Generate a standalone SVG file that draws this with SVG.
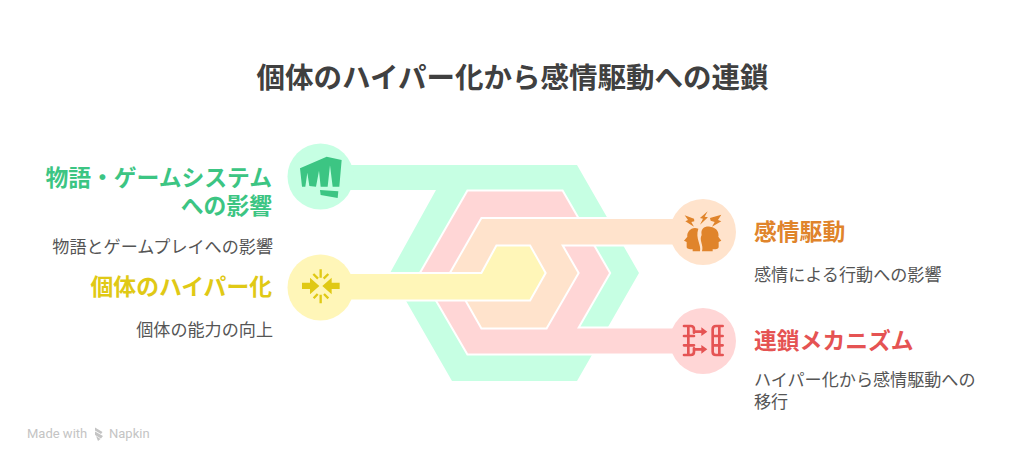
<svg xmlns="http://www.w3.org/2000/svg" width="1024" height="465" viewBox="0 0 1024 465">
<style>
text{font-family:"Noto Sans CJK JP","Noto Sans",sans-serif}
.title{font-size:28.5px;font-weight:700;fill:#404040;text-anchor:middle}
.h{font-size:22.8px;font-weight:700}
.b{font-size:17.1px;fill:#555}
.end{text-anchor:end}
.band{stroke:#fff;stroke-width:4;paint-order:stroke;stroke-linejoin:miter}
.g{fill:#3cc583}.y{fill:#e0c915}.o{fill:#e0842b}.r{fill:#e55353}
.foot{font-size:13px;fill:#c4c4c4;font-family:Roboto,sans-serif}
</style>
<rect width="1024" height="465" fill="#fff"/>
<text class="title" x="512.5" y="88">個体のハイパー化から感情駆動への連鎖</text>
<g id="connectors">
<polygon class="band" fill="#c6ffe3" points="320,165 577,165 639,273 577,381 452,381 390,273 436,190 320,190"/>
<polygon class="band" fill="#ffd6d6" points="468,191.5 562,191.5 609,273 577,328.5 703,328.5 703,353.5 468,353.5 421,273"/>
<polygon class="band" fill="#ffe3cc" points="482,219 703,219 703,244.5 561,244.5 577.5,273 546,327.5 482,327.5 451,273"/>
<polygon class="band" fill="#fff6b8" points="320,274 482,274 497,246.5 529.5,246.5 544.5,273 529.5,299.5 320,299.5"/>
</g>
<g id="node-story">
<circle cx="320.5" cy="176.5" r="33" fill="#c6ffe3"/>
<g transform="translate(280 130) scale(.3333)" class="g">
<path d="M60,115 L140,80 L185,90 L178,170 L158,170 L150,106 L143,170 L122,170 L117,122 L108,170 L88,168 L82,128 L76,170 L66,170 Z"/>
<path d="M120,180 L175,184 L173,204 L122,195 Z"/>
</g>
<text class="h g end" x="272" y="186">物語・ゲームシステム</text>
<text class="h g end" x="272" y="214">への影響</text>
<text class="b end" x="273" y="253">物語とゲームプレイへの影響</text>
</g>
<g id="node-hyper">
<circle cx="320.5" cy="287.5" r="33" fill="#fff6b8"/>
<g transform="translate(280 130) scale(.3333)">
<path class="y" d="M66,458 H90 V443 L118,468 L90,493 V477 H66 Z M179,458 H155 V443 L127,468 L155,493 V477 H179 Z"/>
<path fill="none" stroke="#e0c915" stroke-width="7" d="M122,418 V443 M122,494 V520 M100,432 L114,446 M145,432 L131,446 M101,505 L113,492 M145,505 L132,492"/>
</g>
<text class="h y end" x="272" y="295">個体のハイパー化</text>
<text class="b end" x="273" y="336">個体の能力の向上</text>
</g>
<g id="node-emotion">
<circle cx="703" cy="232" r="33" fill="#ffe3cc"/>
<g transform="translate(660 190) scale(.3333)" class="o">
<path d="M125,135 C121,115 135,108 150,110 C172,112 178,130 175,140 L184,152 L176,156 L176,170 C176,178 165,178 158,178 L158,184 L126,184 C132,165 116,150 125,135 Z"/>
<path d="M115,116 C95,108 80,125 82,140 L72,152 L80,156 L80,172 C82,178 92,178 98,178 L98,184 L120,184 C125,165 105,145 115,116 Z"/>
<path d="M143,64 L120,84 L129,86 L120,104 L144,82 L134,80 Z M102,86 L74,76 L84,90 L76,94 L102,110 L94,96 L103,94 Z M150,84 L184,74 L174,90 L184,94 L156,110 L164,96 L152,92 Z"/>
</g>
<text class="h o" x="754" y="240">感情駆動</text>
<text class="b" x="754" y="281">感情による行動への影響</text>
</g>
<g id="node-chain">
<circle cx="703" cy="341" r="33" fill="#ffd6d6"/>
<g transform="translate(670 300) scale(.3333)">
<path fill="none" stroke="#e55353" stroke-width="8" stroke-linecap="round" d="M42,78 H62 Q72,78 72,88 V98 M42,108 H72 M42,136 H72 M42,165 H62 Q72,165 72,155 V145 M55,78 V165 M72,95 H95 M72,148 H95 M158,78 H138 Q128,78 128,88 V155 Q128,165 138,165 H158 M128,108 H158 M128,136 H158 M148,78 V165"/>
<path class="r" d="M94,82 L112,95 L94,108 Z M94,135 L112,148 L94,161 Z"/>
</g>
<text class="h r" x="754" y="349">連鎖メカニズム</text>
<text class="b" x="754" y="386">ハイパー化から感情駆動への</text>
<text class="b" x="754" y="408">移行</text>
</g>
<g id="footer">
<text class="foot" x="27" y="438">Made with</text>
<path d="M95,427.5 L102.5,432 L101,434 L95,430.5 Z M95,431.5 L103,436 L101,438.5 L95,435 Z M96,436 L100.5,439 L98,441 Z" fill="#c4c4c4"/>
<text class="foot" x="109" y="438">Napkin</text>
</g>
</svg>
